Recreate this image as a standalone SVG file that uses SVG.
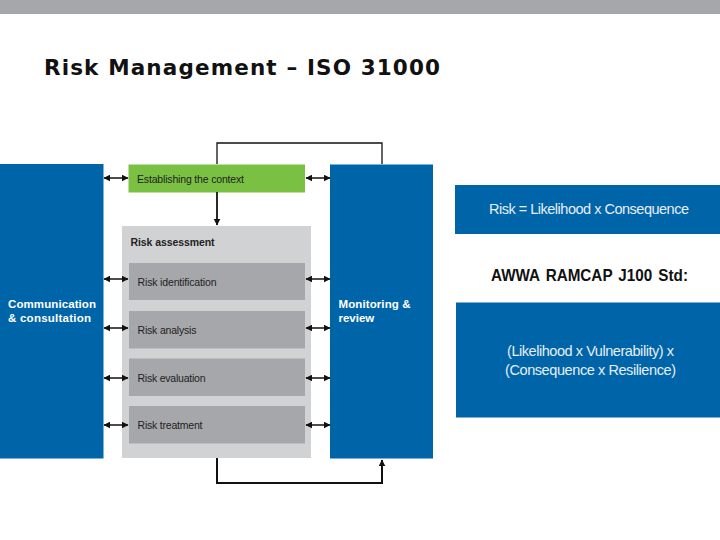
<svg xmlns="http://www.w3.org/2000/svg" width="720" height="540" viewBox="0 0 720 540">
<style>
text{font-family:"Liberation Sans",Arial,sans-serif}
.blue{fill:#0065a8}
.wl{fill:#fff;font-weight:bold;font-size:11.5px}
.wf{fill:#e6eef6;font-size:14.5px}
.gl{fill:#222;font-size:10.5px}
.step{fill:#a6a7aa}
.c{fill:none;stroke:#111;stroke-width:1.5}
</style>
<defs>
<marker id="a" viewBox="0 0 6 6" refX="5.5" refY="3" markerWidth="7" markerHeight="7" orient="auto-start-reverse" markerUnits="userSpaceOnUse"><path d="M0 0L6 3L0 6Z" fill="#111"/></marker>
</defs>
<rect x="0" y="0" width="720" height="14" fill="#a6a7aa"/>
<text x="44" y="75" font-size="21.500" font-weight="bold" fill="#111" textLength="396" style="font-family:'DejaVu Sans',sans-serif">Risk Management – ISO 31000</text>
<g id="communication"><rect class="blue" x="0" y="164" width="103.500" height="294.500"/>
<text class="wl" x="8" y="308" textLength="88">Communication</text><text class="wl" x="8" y="322" textLength="83">&amp; consultation</text></g>
<g id="context"><rect x="128.500" y="164.500" width="176.500" height="28" fill="#7ac143"/>
<text class="gl" x="137" y="182.500" textLength="107">Establishing the context</text></g>
<g id="assessment"><rect x="122" y="226" width="189" height="232" fill="#d1d2d4"/>
<text class="gl" x="130.500" y="246" style="font-weight:bold" textLength="84">Risk assessment</text></g>
<g id="identification"><rect class="step" x="129" y="263" width="176" height="37"/><text class="gl" x="137.500" y="285.500" textLength="79">Risk identification</text></g>
<g id="analysis"><rect class="step" x="129" y="311" width="176" height="37.500"/><text class="gl" x="137.500" y="333.500" textLength="59">Risk analysis</text></g>
<g id="evaluation"><rect class="step" x="129" y="358.500" width="176" height="37.500"/><text class="gl" x="137.500" y="381.500" textLength="68">Risk evaluation</text></g>
<g id="treatment"><rect class="step" x="129" y="406" width="176" height="37.500"/><text class="gl" x="137.500" y="429" textLength="65">Risk treatment</text></g>
<g id="monitoring"><rect class="blue" x="330" y="164.500" width="103" height="294"/>
<text class="wl" x="338.500" y="308" textLength="72">Monitoring &amp;</text><text class="wl" x="338.500" y="322">review</text></g>
<g id="formula1"><rect class="blue" x="455" y="185" width="265" height="49"/>
<text class="wf" x="489" y="214" textLength="200">Risk = Likelihood x Consequence</text></g>
<text id="awwa" x="491" y="281" font-size="16.500" font-weight="bold" fill="#111" word-spacing="2" textLength="197" lengthAdjust="spacingAndGlyphs">AWWA RAMCAP J100 Std:</text>
<g id="formula2"><rect class="blue" x="456" y="302.500" width="264" height="115"/>
<text class="wf" x="507" y="356" textLength="167">(Likelihood x Vulnerability) x</text>
<text class="wf" x="505" y="375" textLength="171">(Consequence x Resilience)</text></g>
<g id="connectors">
<path class="c" style="stroke-width:1.3" d="M217 164V143H382V164"/>
<path class="c" style="stroke-width:1.8" d="M217 192V225" marker-end="url(#a)"/>
<path class="c" style="stroke-width:2" d="M217 458V483H382V460" marker-end="url(#a)"/>
<path class="c" d="M104 178H128" marker-start="url(#a)" marker-end="url(#a)"/>
<path class="c" d="M306 178H330" marker-start="url(#a)" marker-end="url(#a)"/>
<path class="c" d="M104 279H128" marker-start="url(#a)" marker-end="url(#a)"/>
<path class="c" d="M306 279H330" marker-start="url(#a)" marker-end="url(#a)"/>
<path class="c" d="M104 328H128" marker-start="url(#a)" marker-end="url(#a)"/>
<path class="c" d="M306 328H330" marker-start="url(#a)" marker-end="url(#a)"/>
<path class="c" d="M104 378H128" marker-start="url(#a)" marker-end="url(#a)"/>
<path class="c" d="M306 378H330" marker-start="url(#a)" marker-end="url(#a)"/>
<path class="c" d="M104 425H128" marker-start="url(#a)" marker-end="url(#a)"/>
<path class="c" d="M306 425H330" marker-start="url(#a)" marker-end="url(#a)"/>
</g>
</svg>
